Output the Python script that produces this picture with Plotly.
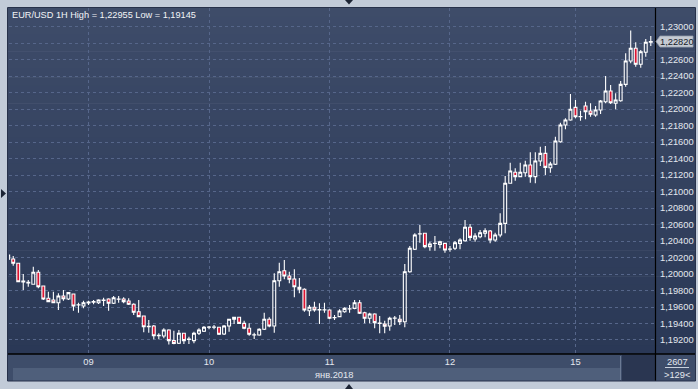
import plotly.graph_objects as go

# ---------------- data (EUR/USD, 1H candles, 08-15 Jan 2018) ----------------
opens = [1.20179, 1.20182, 1.20130, 1.19903, 1.19891, 1.19876, 1.20021, 1.19855, 1.19706, 1.19685,
         1.19652, 1.19734, 1.19697, 1.19758, 1.19624, 1.19612, 1.19649, 1.19657, 1.19652, 1.19681,
         1.19697, 1.19645, 1.19697, 1.19697, 1.19673, 1.19633, 1.19543, 1.19491, 1.19361, 1.19370,
         1.19252, 1.19249, 1.19322, 1.19192, 1.19160, 1.19281, 1.19208, 1.19192, 1.19281, 1.19306,
         1.19354, 1.19354, 1.19354, 1.19273, 1.19370, 1.19451, 1.19475, 1.19402, 1.19342, 1.19261,
         1.19261, 1.19330, 1.19451, 1.19370, 1.19919, 1.20040, 1.19976, 1.19940, 1.19839, 1.19815,
         1.19555, 1.19597, 1.19564, 1.19564, 1.19564, 1.19470, 1.19483, 1.19543, 1.19576, 1.19584,
         1.19652, 1.19531, 1.19463, 1.19515, 1.19402, 1.19394, 1.19370, 1.19463, 1.19451, 1.19422,
         1.20028, 1.20300, 1.20486, 1.20494, 1.20332, 1.20372, 1.20360, 1.20372, 1.20300, 1.20312,
         1.20372, 1.20404, 1.20567, 1.20425, 1.20453, 1.20494, 1.20522, 1.20413, 1.20473, 1.20615,
         1.21101, 1.21234, 1.21181, 1.21229, 1.21323, 1.21181, 1.21371, 1.21464, 1.21290, 1.21331,
         1.21605, 1.21808, 1.21868, 1.22022, 1.21908, 1.22038, 1.21978, 1.21929, 1.21990, 1.22090,
         1.22220, 1.22071, 1.22102, 1.22301, 1.22584, 1.22738, 1.22544, 1.22690, 1.22811]
highs = [1.20243, 1.20219, 1.20134, 1.20000, 1.19928, 1.20089, 1.20049, 1.19855, 1.19786, 1.19786,
         1.19766, 1.19806, 1.19774, 1.19758, 1.19652, 1.19677, 1.19677, 1.19685, 1.19694, 1.19713,
         1.19706, 1.19734, 1.19734, 1.19718, 1.19706, 1.19645, 1.19685, 1.19491, 1.19443, 1.19382,
         1.19281, 1.19342, 1.19330, 1.19313, 1.19322, 1.19288, 1.19240, 1.19301, 1.19342, 1.19370,
         1.19370, 1.19382, 1.19358, 1.19382, 1.19459, 1.19483, 1.19483, 1.19434, 1.19402, 1.19288,
         1.19342, 1.19531, 1.19475, 1.20009, 1.20138, 1.20170, 1.20028, 1.20058, 1.19952, 1.19827,
         1.19624, 1.19665, 1.19645, 1.19652, 1.19573, 1.19503, 1.19573, 1.19597, 1.19624, 1.19685,
         1.19685, 1.19543, 1.19531, 1.19524, 1.19491, 1.19434, 1.19483, 1.19491, 1.19503, 1.20122,
         1.20340, 1.20494, 1.20595, 1.20501, 1.20392, 1.20461, 1.20404, 1.20380, 1.20340, 1.20400,
         1.20433, 1.20655, 1.20607, 1.20494, 1.20534, 1.20555, 1.20534, 1.20501, 1.20737, 1.21189,
         1.21350, 1.21283, 1.21350, 1.21375, 1.21477, 1.21477, 1.21545, 1.21553, 1.21363, 1.21666,
         1.21836, 1.21889, 1.22184, 1.22111, 1.21981, 1.22090, 1.22071, 1.22038, 1.22111, 1.22402,
         1.22293, 1.22192, 1.22341, 1.22677, 1.22955, 1.22811, 1.22717, 1.22851, 1.22887]
lows = [1.20170, 1.20101, 1.19903, 1.19806, 1.19846, 1.19874, 1.19827, 1.19685, 1.19657, 1.19645,
        1.19564, 1.19677, 1.19685, 1.19555, 1.19531, 1.19584, 1.19624, 1.19633, 1.19637, 1.19612,
        1.19555, 1.19637, 1.19652, 1.19645, 1.19624, 1.19503, 1.19475, 1.19293, 1.19288, 1.19208,
        1.19208, 1.19221, 1.19145, 1.19148, 1.19151, 1.19151, 1.19151, 1.19160, 1.19261, 1.19297,
        1.19330, 1.19330, 1.19261, 1.19261, 1.19301, 1.19394, 1.19394, 1.19330, 1.19252, 1.19212,
        1.19252, 1.19322, 1.19354, 1.19288, 1.19846, 1.19936, 1.19888, 1.19718, 1.19766, 1.19543,
        1.19491, 1.19543, 1.19394, 1.19531, 1.19451, 1.19443, 1.19475, 1.19531, 1.19531, 1.19573,
        1.19515, 1.19402, 1.19402, 1.19342, 1.19281, 1.19281, 1.19313, 1.19382, 1.19382, 1.19354,
        1.20016, 1.20291, 1.20380, 1.20312, 1.20283, 1.20283, 1.20312, 1.20259, 1.20271, 1.20291,
        1.20300, 1.20392, 1.20404, 1.20392, 1.20433, 1.20445, 1.20372, 1.20392, 1.20445, 1.20494,
        1.21099, 1.21132, 1.21179, 1.21179, 1.21108, 1.21101, 1.21310, 1.21201, 1.21229, 1.21323,
        1.21593, 1.21756, 1.21860, 1.21889, 1.21860, 1.21877, 1.21908, 1.21908, 1.21941, 1.22071,
        1.22062, 1.21998, 1.22090, 1.22272, 1.22556, 1.22515, 1.22503, 1.22636, 1.22766]
closes = [1.20231, 1.20130, 1.19907, 1.19916, 1.19900, 1.20021, 1.19846, 1.19697, 1.19665, 1.19652,
          1.19734, 1.19701, 1.19774, 1.19612, 1.19626, 1.19652, 1.19661, 1.19665, 1.19685, 1.19685,
          1.19645, 1.19713, 1.19694, 1.19665, 1.19633, 1.19536, 1.19483, 1.19361, 1.19366, 1.19252,
          1.19257, 1.19322, 1.19192, 1.19158, 1.19281, 1.19192, 1.19210, 1.19281, 1.19322, 1.19354,
          1.19356, 1.19358, 1.19269, 1.19370, 1.19451, 1.19475, 1.19402, 1.19342, 1.19269, 1.19263,
          1.19330, 1.19451, 1.19370, 1.19919, 1.20028, 1.19976, 1.19936, 1.19846, 1.19815, 1.19564,
          1.19597, 1.19564, 1.19568, 1.19566, 1.19463, 1.19472, 1.19552, 1.19584, 1.19578, 1.19652,
          1.19524, 1.19463, 1.19515, 1.19410, 1.19404, 1.19366, 1.19463, 1.19465, 1.19422, 1.20028,
          1.20312, 1.20473, 1.20488, 1.20332, 1.20364, 1.20374, 1.20392, 1.20291, 1.20302, 1.20380,
          1.20413, 1.20567, 1.20445, 1.20461, 1.20501, 1.20525, 1.20413, 1.20473, 1.20615, 1.21101,
          1.21250, 1.21181, 1.21234, 1.21323, 1.21181, 1.21371, 1.21464, 1.21294, 1.21335, 1.21614,
          1.21808, 1.21868, 1.21998, 1.21908, 1.21910, 1.21969, 1.21938, 1.21990, 1.22099, 1.22220,
          1.22078, 1.22111, 1.22301, 1.22584, 1.22738, 1.22544, 1.22697, 1.22811, 1.22820]
bar_index = list(range(len(opens)))

day_tick_index = [16, 40, 64, 88, 113]
day_tick_labels = ["09", "10", "11", "12", "15"]
month_label = "янв.2018"
price_ticks = [1.192, 1.194, 1.196, 1.198, 1.200, 1.202, 1.204, 1.206, 1.208, 1.210,
               1.212, 1.214, 1.216, 1.218, 1.220, 1.222, 1.224, 1.226, 1.228, 1.230]
symbol = "EUR/USD"
timeframe = "1H"
total_bars = 2607

# ---------------- layout geometry ----------------
W, H = 698, 389
L, R, T, B = 9, 43, 8, 35
PW = W - L - R
PH = H - T - B
Y_RANGE = [1.19030, 1.23227]
X_RANGE = [0.16, 128.84]


def px(x):
    return (x - L) / PW


def py(y):
    return (T + PH - y) / PH


def fmt(v):
    return f"{v:.5f}".replace(".", ",")


last = closes[-1]
# price labels; the one hidden behind the last-price marker is left blank
price_text = ["" if abs(v - round(last, 3)) < 1e-9 else fmt(v) for v in price_ticks]

fig = go.Figure()
fig.add_trace(go.Candlestick(
    x=bar_index, open=opens, high=highs, low=lows, close=closes,
    increasing=dict(line=dict(color="#ffffff", width=1.1), fillcolor="rgba(0,0,0,0)"),
    decreasing=dict(line=dict(color="#ffffff", width=1.1), fillcolor="#dc1432"),
    whiskerwidth=0, hoverinfo="skip", showlegend=False,
))

shapes = []
# panel gradient background
top_c = (62, 76, 105)
bot_c = (42, 56, 86)
N = 40
y0p, y1p = 8, T + PH
for k in range(N):
    t = k / (N - 1)
    c = tuple(round(top_c[j] + (bot_c[j] - top_c[j]) * t) for j in range(3))
    ya = y0p + (y1p - y0p) * k / N
    yb = y0p + (y1p - y0p) * (k + 1) / N + 0.6
    shapes.append(dict(type="rect", xref="paper", yref="paper", layer="below",
                       x0=px(8), x1=px(695), y0=py(ya), y1=py(yb),
                       fillcolor="rgb(%d,%d,%d)" % c, line=dict(width=0)))
# bottom axis rows
shapes.append(dict(type="rect", xref="paper", yref="paper", layer="below",
                   x0=px(8), x1=px(695), y0=py(354), y1=py(381),
                   fillcolor="#3e4d6a", line=dict(width=0)))
shapes.append(dict(type="rect", xref="paper", yref="paper", layer="below",
                   x0=px(13), x1=px(620), y0=py(368), y1=py(381),
                   fillcolor="#4f5f7b", line=dict(width=0)))
shapes.append(dict(type="rect", xref="paper", yref="paper", layer="below",
                   x0=px(622), x1=px(655), y0=py(355), y1=py(381),
                   fillcolor="#2a3651", line=dict(width=0)))
shapes.append(dict(type="line", xref="paper", yref="paper",
                   x0=px(620.5), x1=px(620.5), y0=py(356), y1=py(380),
                   line=dict(color="#6b7a94", width=1)))
# black frame lines
shapes.append(dict(type="line", xref="paper", yref="paper",
                   x0=px(8), x1=px(695), y0=py(354), y1=py(354),
                   line=dict(color="#000000", width=1.5)))
shapes.append(dict(type="line", xref="paper", yref="paper",
                   x0=px(655.5), x1=px(655.5), y0=py(8), y1=py(381),
                   line=dict(color="#000000", width=1.2)))
# outer dark border
shapes.append(dict(type="rect", xref="paper", yref="paper",
                   x0=px(7.5), x1=px(695.5), y0=py(7.5), y1=py(381),
                   fillcolor="rgba(0,0,0,0)", line=dict(color="#27314a", width=1)))
# separator under bar count
shapes.append(dict(type="line", xref="paper", yref="paper",
                   x0=px(665), x1=px(689), y0=py(367.5), y1=py(367.5),
                   line=dict(color="#c8d0dc", width=1)))
# small triangles on frame
tri = "#1c2434"
shapes.append(dict(type="path", xref="paper", yref="paper",
                   path=f"M {px(345)},{py(0)} L {px(353)},{py(0)} L {px(349)},{py(4.5)} Z",
                   fillcolor=tri, line=dict(width=0)))
shapes.append(dict(type="path", xref="paper", yref="paper",
                   path=f"M {px(345)},{py(389)} L {px(353)},{py(389)} L {px(349)},{py(384)} Z",
                   fillcolor=tri, line=dict(width=0)))
shapes.append(dict(type="path", xref="paper", yref="paper",
                   path=f"M {px(1)},{py(189)} L {px(1)},{py(198)} L {px(6)},{py(193.5)} Z",
                   fillcolor=tri, line=dict(width=0)))
# last price marker
vpp = (Y_RANGE[1] - Y_RANGE[0]) / PH
hh = 5.5 * vpp
shapes.append(dict(type="path", xref="paper", yref="y",
                   path=(f"M {px(656)},{last} L {px(660)},{last + hh} L {px(693)},{last + hh} "
                         f"L {px(693)},{last - hh} L {px(660)},{last - hh} Z"),
                   fillcolor="#c5cad3", line=dict(color="#9aa2ae", width=0.8)))

font_family = "Liberation Sans, Arial, sans-serif"
txt = "#e4e8ef"
FS = 9.3
annotations = [
    dict(xref="paper", yref="paper", x=px(10), y=py(8.5), xanchor="left", yanchor="top",
         text=f"{symbol} {timeframe} High = {fmt(max(highs))} Low = {fmt(min(lows))}",
         showarrow=False, font=dict(family=font_family, size=9.2, color="#f2f4f7")),
    dict(xref="paper", yref="paper", x=px(334), y=py(374.5), xanchor="center", yanchor="middle",
         text=month_label, showarrow=False, font=dict(family=font_family, size=FS, color=txt)),
    dict(xref="paper", yref="paper", x=px(677), y=py(361.5), xanchor="center", yanchor="middle",
         text=str(total_bars), showarrow=False, font=dict(family=font_family, size=FS, color=txt)),
    dict(xref="paper", yref="paper", x=px(677), y=py(374.5), xanchor="center", yanchor="middle",
         text=f"&gt;{len(bar_index)}&lt;", showarrow=False,
         font=dict(family=font_family, size=FS, color=txt)),
    dict(xref="paper", yref="y", x=px(676.5), y=last, xanchor="center", yanchor="middle",
         text=fmt(last), showarrow=False, font=dict(family=font_family, size=FS, color="#141a26")),
]

grid_c = "#56668a"
fig.update_layout(
    width=W, height=H,
    margin=dict(l=L, r=R, t=T, b=B, pad=0, autoexpand=False),
    paper_bgcolor="#c2cbd8",
    plot_bgcolor="rgba(0,0,0,0)",
    showlegend=False,
    boxgap=0.18,
    shapes=shapes,
    annotations=annotations,
    xaxis=dict(
        range=X_RANGE, rangeslider=dict(visible=False), automargin=False,
        tickmode="array", tickvals=day_tick_index, ticktext=day_tick_labels,
        showgrid=True, gridcolor=grid_c, griddash="3px,3px", gridwidth=1,
        zeroline=False, showline=False, ticks="",
        tickfont=dict(family=font_family, size=FS, color=txt),
        ticklabelstandoff=1,
    ),
    yaxis=dict(
        range=Y_RANGE, side="right", automargin=False,
        tickmode="array", tickvals=price_ticks, ticktext=price_text,
        showgrid=True, gridcolor=grid_c, griddash="3px,3px", gridwidth=1,
        zeroline=False, showline=False, ticks="",
        tickfont=dict(family=font_family, size=FS, color=txt),
        ticklabelstandoff=4,
    ),
)

fig.write_html("out.html",
               config={"displayModeBar": False, "staticPlot": True},
               post_script="document.body.style.margin='0';document.body.style.padding='0';"
                           "document.body.style.overflow='hidden';")
